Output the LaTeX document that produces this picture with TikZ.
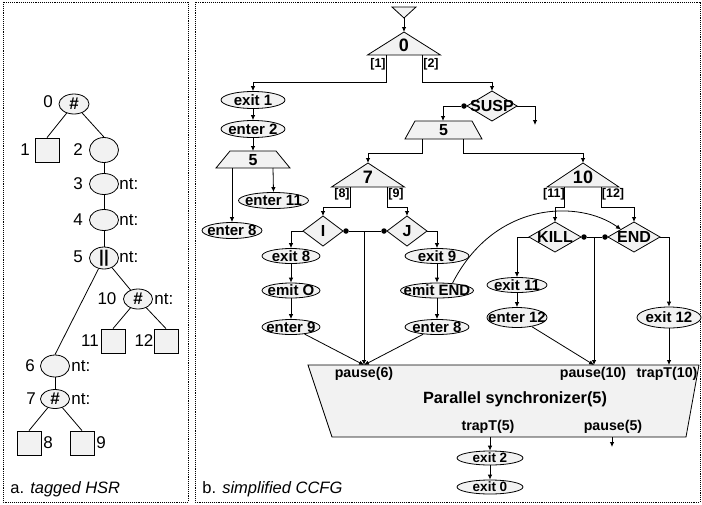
\documentclass[tikz,border=0pt]{standalone}
\usepackage{fontspec}
\setmainfont{Liberation Sans}
\usetikzlibrary{shapes.geometric,arrows.meta}
\definecolor{boxfill}{HTML}{F2F2F2}
\newcommand\fsz[1]{\fontsize{#1}{#1}\selectfont}
% ellipse node: name, x, y, w, h, text
\newcommand\myell[6]{%
  \node[ell, minimum width=#4, minimum height=#5] (#1) at (#2,#3) {};
  \node[elab] (#1-t) at (#1.center) {#6};}
% diamond: name, x, y, hw, hh, text
\newcommand\mydiamond[6]{%
  \path[shapebox] (#2-#4,#3) -- (#2,#3-#5) -- (#2+#4,#3) -- (#2,#3+#5) -- cycle;
  \coordinate (#1-l) at (#2-#4,#3);
  \coordinate (#1-r) at (#2+#4,#3);
  \coordinate (#1-t) at (#2,#3-#5);
  \coordinate (#1-b) at (#2,#3+#5);
  \node[dlab] (#1) at (#2,#3) {#6};}
% triangle: name, x apex, y apex, half base, y base, text
\newcommand\mytri[6]{%
  \path[shapebox] (#2,#3) -- (#2+#4,#5) -- (#2-#4,#5) -- cycle;
  \coordinate (#1-apex) at (#2,#3);
  \node[trilab] (#1) at (#2,#5-10) {#6};}
\begin{document}
\begin{tikzpicture}[x=1pt,y=-1pt,line width=0.8pt,
  arr/.style={-{Latex[length=5pt,width=4.5pt]}},
  shapebox/.style={draw,fill=boxfill},
  ell/.style={ellipse,draw,fill=boxfill,inner sep=0pt},
  elab/.style={font=\fsz{15}\bfseries,inner sep=0pt},
  dlab/.style={font=\fsz{16}\bfseries,inner sep=0pt},
  trilab/.style={font=\fsz{18}\bfseries,inner sep=0pt},
  traplab/.style={font=\fsz{16}\bfseries,inner sep=0pt},
  brlab/.style={font=\fsz{12.5}\bfseries,inner sep=0pt},
  synlab/.style={font=\fsz{14.2}\bfseries,inner sep=0pt},
  dot/.style={circle,fill,inner sep=0pt,minimum size=5.5pt},
  tnode/.style={ellipse,draw,fill=boxfill,inner sep=0pt,minimum width=29,minimum height=21},
  sq/.style={rectangle,draw,fill=boxfill,inner sep=0pt,minimum size=24},
  tlab/.style={font=\fsz{17},inner sep=0pt},
  hlab/.style={font=\fsz{17}\bfseries,inner sep=0pt},
  frame/.style={densely dotted,line width=0.9pt},
  captext/.style={font=\fsz{16.5},inner sep=0pt,anchor=west}]
\useasboundingbox (0,0) rectangle (702,504);
% frames
\draw[frame] (3,2) rectangle (188,502);
\draw[frame] (195,2) rectangle (700,502);
\node[captext] (capa) at (10,489) {a. \textit{tagged HSR}};
\node[captext] (capb) at (202,489) {b. \textit{simplified CCFG}};

% ---------- left tree ----------
\node[tnode,minimum width=30,minimum height=20] (t0) at (74,104) {};
\node[hlab] (t0s) at (t0) {\#};
\node[tlab] (t0n) at (48,102) {0};
\node[sq] (s1) at (47,150) {};
\node[tlab] (s1n) at (25,150) {1};
\node[tnode,minimum height=25] (e2) at (104,150) {};
\node[tlab] (e2n) at (78,150) {2};
\node[tnode] (e3) at (104,184) {};
\node[tlab] (e3n) at (78,184) {3};
\node[tlab,anchor=west] (e3t) at (119,184) {nt:};
\node[tnode] (e4) at (104,220) {};
\node[tlab] (e4n) at (78,220) {4};
\node[tlab,anchor=west] (e4t) at (119,220) {nt:};
\node[tnode,minimum height=22] (e5) at (104,258) {};
\node[hlab] (e5s) at (e5) {||};
\node[tlab] (e5n) at (78,257) {5};
\node[tlab,anchor=west] (e5t) at (119,257) {nt:};
\node[tnode,minimum height=20] (e10) at (138,299) {};
\node[hlab] (e10s) at (e10) {\#};
\node[tlab] (e10n) at (107,299) {10};
\node[tlab,anchor=west] (e10t) at (154,299) {nt:};
\node[sq] (s11) at (113,341) {};
\node[tlab] (s11n) at (90,341) {11};
\node[sq] (s12) at (166,341) {};
\node[tlab] (s12n) at (144,341) {12};
\node[tnode,minimum height=22] (e6) at (55,366) {};
\node[tlab] (e6n) at (30,366) {6};
\node[tlab,anchor=west] (e6t) at (71,366) {nt:};
\node[tnode,minimum height=19] (e7) at (55,399) {};
\node[hlab] (e7s) at (e7) {\#};
\node[tlab] (e7n) at (31,399) {7};
\node[tlab,anchor=west] (e7t) at (71,399) {nt:};
\node[sq] (s8) at (29,443) {};
\node[tlab] (s8n) at (48,443) {8};
\node[sq] (s9) at (82,443) {};
\node[tlab] (s9n) at (101,443) {9};
\draw (t0) -- (s1.north);
\draw (t0) -- (e2.north);
\draw (e2) -- (e3);
\draw (e3) -- (e4);
\draw (e4) -- (e5);
\draw (e5) -- (e6.north);
\draw (e5) -- (e10);
\draw (e10) -- (s11.north);
\draw (e10) -- (s12.north);
\draw (e6) -- (e7);
\draw (e7) -- (s8.north);
\draw (e7) -- (s9.north);

% ---------- right CCFG ----------
\path[shapebox] (392,7) -- (416,7) -- (404,18) -- cycle;
\coordinate (st) at (404,18);
\mytri{T0}{404}{32}{36.5}{55}{0}
\draw[arr] (st) -- (T0-apex);
\node[brlab] (L1) at (378,64) {[1]};
\node[brlab] (L2) at (431,64) {[2]};
\coordinate (T0a) at (386,55);
\coordinate (T0b) at (422,55);

\myell{x1}{253}{100}{64}{17}{exit 1}
\myell{x2}{253}{129}{64}{17}{enter 2}
\draw[arr] (T0a) -- ++(0,27) -| (x1.north);
\draw[arr] (x1) -- (x2);

% left trapezoid 5
\path[shapebox] (230,151) -- (276,151) -- (290,168) -- (216,168) -- cycle;
\node[traplab] (L5) at (253,160) {5};
\coordinate (L5-t) at (253,151);
\coordinate (L5a) at (232,168);
\coordinate (L5b) at (273,168);
\draw[arr] (x2) -- (L5-t);
\myell{en11}{273.5}{200.5}{70}{16}{enter 11}
\myell{en8a}{232}{230.5}{60}{16}{enter 8}
\draw[arr] (L5b) -- (en11.north);
\draw[arr] (L5a) -- (en8a.north);

% SUSP
\mydiamond{SU}{492}{106}{25}{15}{SUSP}
\draw[arr] (T0b) -- ++(0,27) -| (SU-t);
\node[dot] (SUd) at (464,106) {};
\coordinate (SUo) at (535,125);
\draw[arr] (SU-r) -| (SUo);

% middle trapezoid 5
\path[shapebox] (415,121) -- (472,121) -- (482,139) -- (405,139) -- cycle;
\node[traplab] (M5) at (443.5,130) {5};
\coordinate (M5-t) at (443,121);
\coordinate (M5a) at (422,139);
\coordinate (M5b) at (463,139);
\draw[arr] (SUd) -| (M5-t);

% triangle 7
\mytri{T7}{368}{163}{36.5}{187}{7}
\draw[arr] (M5a) -- ++(0,14) -| (T7-apex);
\node[brlab] (L8) at (342,194) {[8]};
\node[brlab] (L9) at (396,194) {[9]};
\coordinate (T7a) at (350,187);
\coordinate (T7b) at (387,187);

% triangle 10
\mytri{T10}{583}{163}{36}{187}{10}
\draw[arr] (M5b) -- ++(0,14) -| (T10-apex);
\node[brlab] (L11) at (554,194) {[11]};
\node[brlab] (L12) at (613,194) {[12]};
\coordinate (T10a) at (564,187);
\coordinate (T10b) at (601,187);

% I and J
\mydiamond{I}{323}{231}{20}{15}{I}
\mydiamond{J}{407}{231}{20}{15}{J}
\draw[arr] (T7a) -- ++(0,20) -| (I-t);
\draw[arr] (T7b) -- ++(0,20) -| (J-t);
\node[dot] (Id) at (346,231) {};
\node[dot] (Jd) at (384,231) {};
\draw (Id) -- (Jd);
\coordinate (IJ) at (364,231);

\myell{ex8}{291}{256}{58}{15}{exit 8}
\myell{emO}{291}{290.5}{58}{15}{emit O}
\myell{en9}{291}{327}{58}{15}{enter 9}
\myell{ex9}{437}{256}{64}{15}{exit 9}
\myell{emE}{437}{290.5}{73}{15}{emit END}
\myell{en8b}{437}{327}{64}{15}{enter 8}
\draw[arr] (I-l) -| (ex8.north);
\draw[arr] (ex8) -- (emO);
\draw[arr] (emO) -- (en9);
\draw[arr] (J-r) -| (ex9.north);
\draw[arr] (ex9) -- (emE);
\draw[arr] (emE) -- (en8b);

% KILL and END
\mydiamond{K}{555}{237}{26}{15}{KILL}
\mydiamond{E}{634}{237}{26}{15}{END}
\draw[arr] (T10a) -- ++(0,20) -| (K-t);
\draw[arr] (T10b) -- ++(0,20) -| (E-t);
\node[dot] (Kd) at (584,237) {};
\node[dot] (Ed) at (605,237) {};
\draw (Kd) -- (Ed);
\coordinate (KE) at (594,237);
\coordinate (Eul) at (621,229.5);
\draw[arr] (emE.25) .. controls (495,200) and (580,200) .. (Eul);

\myell{ex11}{517}{285}{60}{15}{exit 11}
\myell{en12}{517}{317.5}{60}{20}{enter 12}
\myell{ex12}{669}{317.5}{64}{21}{exit 12}
\draw[arr] (K-l) -| (ex11.north);
\draw[arr] (ex11) -- (en12);
\draw[arr] (E-r) -| (ex12.north);

% parallel synchronizer
\path[shapebox] (308,365) -- (699,365) -- (686,437) -- (332,437) -- cycle;
\coordinate (P6) at (364,365);
\coordinate (P10) at (594,365);
\coordinate (PT10) at (669,365);
\node[synlab] (sp6) at (364,374) {pause(6)};
\node[synlab] (sp10) at (593,374) {pause(10)};
\node[synlab] (st10) at (667,374) {trapT(10)};
\node[synlab,font=\fsz{16.3}\bfseries] (sname) at (515,399) {Parallel synchronizer(5)};
\node[synlab] (st5) at (488,427) {trapT(5)};
\node[synlab] (sp5) at (613,427) {pause(5)};
\draw[arr] (IJ) -- (P6);
\draw[arr] (en9) -- (P6);
\draw[arr] (en8b) -- (P6);
\draw[arr] (KE) -- (P10);
\draw[arr] (en12) -- (P10);
\draw[arr] (ex12) -- (PT10);

\coordinate (S1) at (490,437);
\coordinate (S2) at (612,437);
\coordinate (SO) at (612,447);
\myell{ex2}{490}{458}{66}{14}{\fsz{13.5}exit 2}
\myell{ex0}{490}{487}{66}{14}{\fsz{13.5}exit 0}
\draw[arr] (S1) -- (ex2.north);
\draw[arr] (S2) -- (SO);
\draw[arr] (ex2) -- (ex0);
\end{tikzpicture}
\end{document}
